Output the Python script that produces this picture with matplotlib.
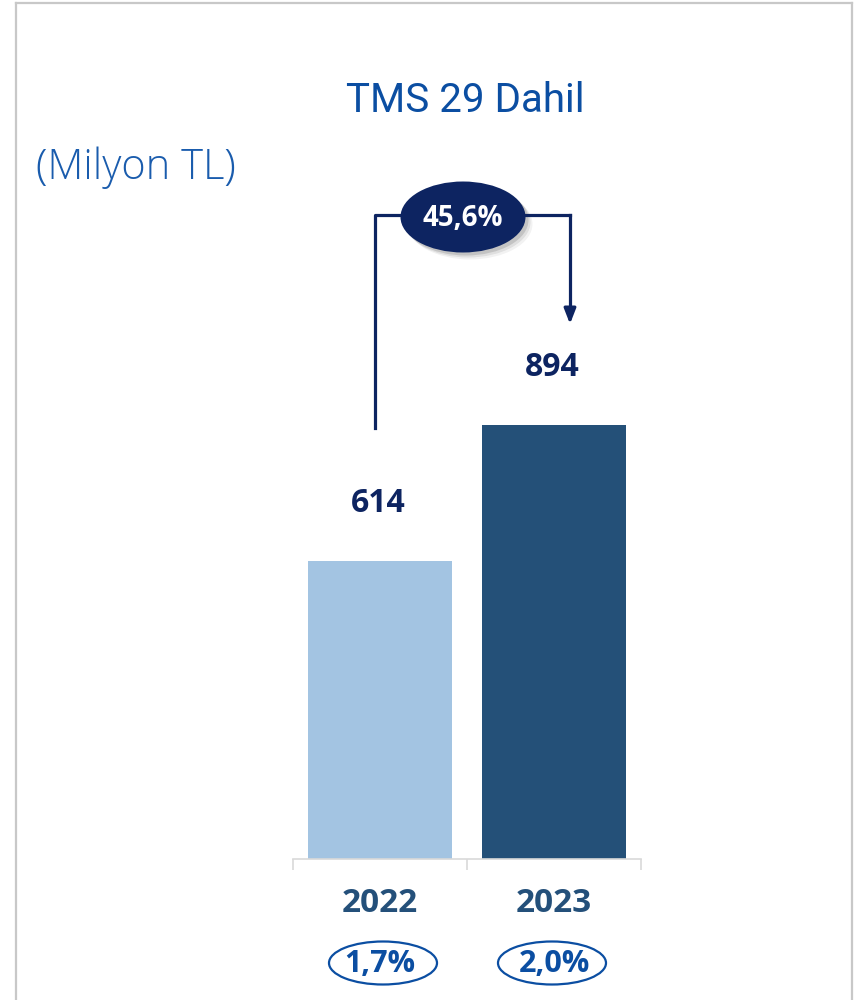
import matplotlib
matplotlib.use('Agg')
import matplotlib.pyplot as plt
from matplotlib.patches import Ellipse
from matplotlib.lines import Line2D

plt.rcParams['font.family'] = ['Open Sans', 'DejaVu Sans']

# veriler
years = ['2022', '2023']
values = [614, 894]
shares = ['1,7%', '2,0%']
growth = '45,6%'
title = 'TMS 29 Dahil'
unit = '(Milyon TL)'

bar_colors = ['#A3C4E2', '#245078']
navy = '#0D2461'
blue = '#0B4EA2'

W, H = 867, 1000
fig = plt.figure(figsize=(W / 100, H / 100), dpi=100)


def px(x, y):
    # piksel -> figure oranı
    return x / W, 1 - y / H


# çerçeve
for xs, ys in [((15.5, 15.5), (2.5, 1000)), ((15.5, 852), (2.5, 2.5)), ((852, 852), (2.5, 1000))]:
    fig.add_artist(Line2D([x / W for x in xs], [1 - y / H for y in ys],
                          transform=fig.transFigure, color='#C8C8C8', lw=1.6))

# çubuklar
ax_bottom = 859
ax_top = 150
ax = fig.add_axes([293 / W, 1 - ax_bottom / H, 348 / W, (ax_bottom - ax_top) / H])
xpos = list(range(len(years)))
bars = ax.bar(xpos, values, width=0.83, color=bar_colors, zorder=2)
ax.set_xlim(-0.5, 1.5)
ax.set_ylim(0, (ax_bottom - ax_top) * 614 / 298)
for s in ['top', 'left', 'right']:
    ax.spines[s].set_visible(False)
ax.spines['bottom'].set_color('#D9D9D9')
ax.spines['bottom'].set_linewidth(1.2)
ax.set_yticks([])
ax.set_xticks([-0.5, 0.5, 1.5])
ax.tick_params(axis='x', length=8, width=1.2, color='#D9D9D9', labelbottom=False)

for b, v in zip(bars, values):
    ax.annotate(str(v), (b.get_x() + b.get_width() / 2, v), xytext=(-2, 58),
                textcoords='offset pixels', ha='center', va='center',
                fontsize=23, fontweight='bold', color=navy)

# yıl etiketleri ve paylar
for i, (yr, sh) in enumerate(zip(years, shares)):
    xc = ax.transData.transform((i, 0))[0] / W
    fig.text(xc, 1 - 903 / H, yr, ha='center', va='center', fontsize=24,
             fontweight='bold', color='#24507A')
    ecx = xc + 3 / W if i == 0 else xc - 2 / W
    fig.add_artist(Ellipse((ecx, 1 - 963 / H), 108 / W, 43 / H, transform=fig.transFigure,
                           facecolor='white', edgecolor=blue, lw=1.6))
    fig.text(xc, 1 - 964 / H, sh, ha='center', va='center', fontsize=22,
             fontweight='bold', color=blue)

# başlıklar
fig.text(*px(465, 101), title, ha='center', va='center', fontsize=29,
         color=blue, family=['Roboto', 'DejaVu Sans'])
fig.text(*px(36, 168), unit, ha='left', va='center', fontsize=30, color='#1A5CAD',
         fontweight='light')

# büyüme oku
fig.add_artist(Line2D([375 / W, 375 / W, 570 / W], [1 - 428 / H, 1 - 215 / H, 1 - 215 / H],
                      transform=fig.transFigure, color=navy, lw=2.3))
fig.add_artist(Line2D([570 / W, 570 / W], [1 - 215 / H, 1 - 312 / H],
                      transform=fig.transFigure, color=navy, lw=2.3))
ax.annotate('', xy=px(570, 324), xytext=px(570, 309), xycoords='figure fraction',
            textcoords='figure fraction',
            arrowprops=dict(arrowstyle='-|>,head_length=0.9,head_width=0.35',
                            color=navy, lw=2.3, shrinkA=0, shrinkB=0))

# gölge + elips
for k, a in [(7, 0.05), (5, 0.08), (3, 0.12)]:
    fig.add_artist(Ellipse(px(463 + k, 217 + k), 125 / W, 71 / H, transform=fig.transFigure,
                           facecolor='black', edgecolor='none', alpha=a))
fig.add_artist(Ellipse(px(463, 217), 125 / W, 71 / H, transform=fig.transFigure,
                       facecolor=navy, edgecolor='none'))
fig.text(*px(463, 218), growth, ha='center', va='center', fontsize=20,
         fontweight='bold', color='white')

fig.savefig('out.png', dpi=100, facecolor='white')
